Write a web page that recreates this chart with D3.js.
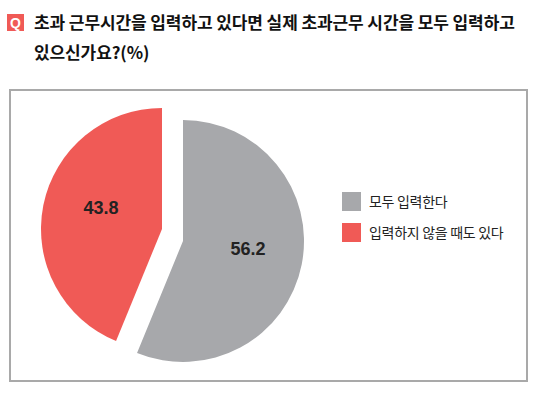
<!DOCTYPE html>
<html>
<head>
<meta charset="utf-8">
<script src="https://cdn.jsdelivr.net/npm/d3@7"></script>
<style>
  body { margin: 0; background: #fff; }
  text { font-family: "Noto Sans CJK KR", "Noto Sans", sans-serif; }
</style>
</head>
<body>
<svg id="chart" width="536" height="395"></svg>
<script>
// Data
let categories = ["모두 입력한다", "입력하지 않을 때도 있다"];
let values = [56.2, 43.8];
let colors = ["#a7a8ab", "#f05a56"];
let titleLines = ["초과 근무시간을 입력하고 있다면 실제 초과근무 시간을 모두 입력하고", "있으신가요?(%)"];

let svg = d3.select("#chart");

//Title with the red Q badge
svg.append("rect")
   .attr("x", 7).attr("y", 14)
   .attr("width", 17).attr("height", 17)
   .attr("fill", "#f05a56");
svg.append("text")
   .attr("x", 15.5).attr("y", 28)
   .attr("text-anchor", "middle")
   .attr("fill", "#fff")
   .attr("font-size", 14)
   .attr("font-weight", "bold")
   .style("font-family", "'Liberation Sans', sans-serif")
   .text("Q");
svg.selectAll(".title")
   .data(titleLines)
   .enter().append("text")
   .attr("class", "title")
   .attr("x", 34)
   .attr("y", (d, i) => 29 + i * 30)
   .attr("font-size", 17)
   .attr("font-weight", "bold")
   .attr("fill", "#111")
   .attr("letter-spacing", -0.1)
   .text(d => d);

//Frame around the chart
svg.append("rect")
   .attr("x", 10).attr("y", 90)
   .attr("width", 517).attr("height", 291)
   .attr("fill", "none")
   .attr("stroke", "#a9a9a9")
   .attr("stroke-width", 2);

//Pie
let radius = 121;
let pie = d3.pie().sort(null).value(d => d);
let arc = d3.arc().innerRadius(0).outerRadius(radius);
let labelArc = d3.arc().innerRadius(radius * 1.06).outerRadius(radius * 1.06);
//Each slice is pulled out a little from the common center
let explode = [[10.5, 6], [-10.5, -6]];

let g = svg.append("g").attr("transform", "translate(172.5,235)");

let slices = g.selectAll(".slice")
   .data(pie(values))
   .enter().append("g")
   .attr("class", "slice")
   .attr("transform", (d, i) => "translate(" + explode[i][0] + "," + explode[i][1] + ")");

slices.append("path")
   .attr("d", arc)
   .attr("fill", (d, i) => colors[i]);

slices.append("text")
   .attr("transform", (d, i) => {
     let c = labelArc.centroid(d);
     return "translate(" + (c[0] * 0.5 + 2) + "," + (c[1] * 0.5 - (i == 0 ? 5 : 9)) + ")";
   })
   .attr("dy", "0.35em")
   .attr("text-anchor", "middle")
   .attr("font-size", 18)
   .attr("font-weight", "bold")
   .attr("fill", "#222")
   .style("font-family", "'Liberation Sans', sans-serif")
   .text(d => d.data.toFixed(1));

//Legend
let legend = svg.selectAll(".legend")
   .data(categories)
   .enter().append("g")
   .attr("class", "legend")
   .attr("transform", (d, i) => "translate(342," + (192 + i * 31) + ")");

legend.append("rect")
   .attr("width", 19).attr("height", 19)
   .attr("fill", (d, i) => colors[i]);

legend.append("text")
   .attr("x", 27).attr("y", 14.5)
   .attr("font-size", 14)
   .attr("fill", "#222")
   .attr("letter-spacing", -0.3)
   .text(d => d);
</script>
</body>
</html>
